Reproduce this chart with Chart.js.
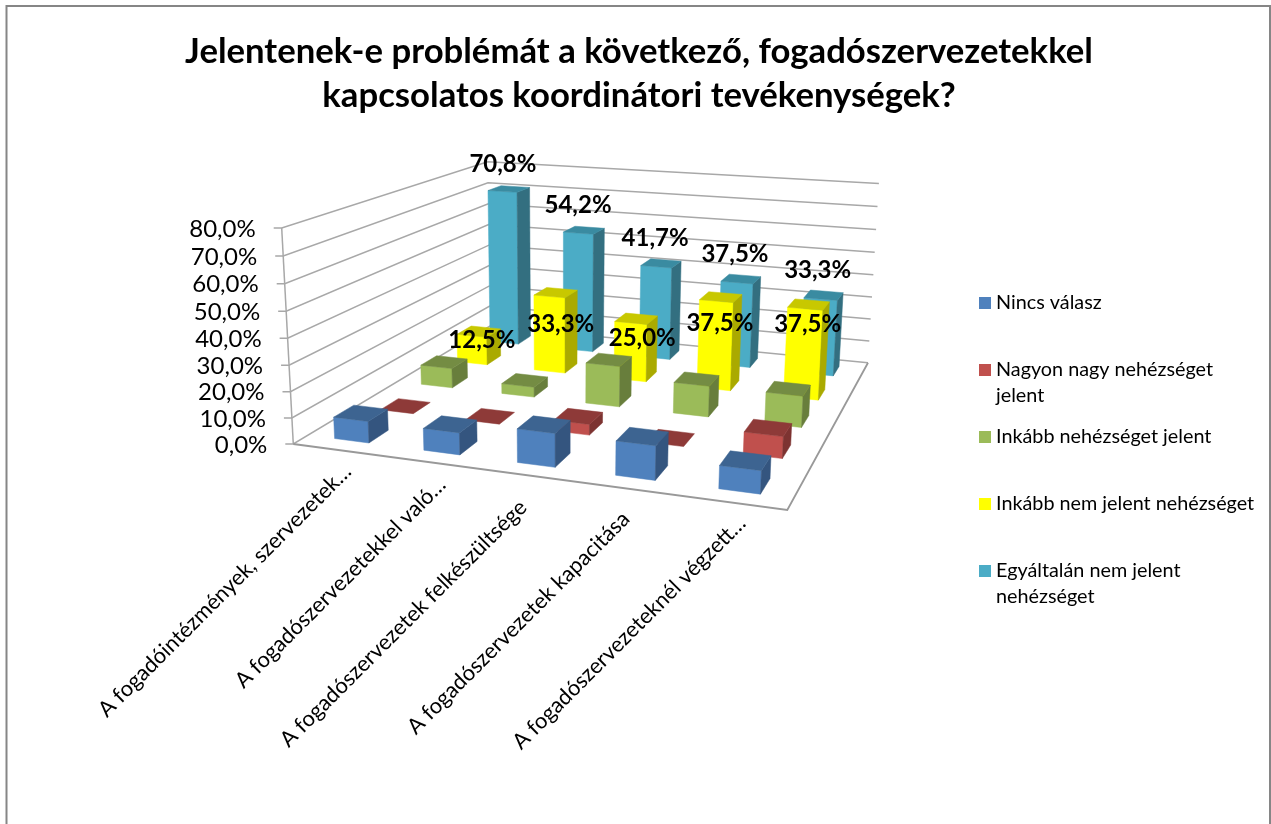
<!DOCTYPE html>
<html>
<head>
<meta charset="utf-8">
<title>Koordinátori tevékenységek</title>
<script src="https://cdn.jsdelivr.net/npm/chart.js@4"></script>
<style>
    html, body { margin: 0; padding: 0; background: #ffffff; }
    canvas { display: block; }
</style>
</head>
<body>
<canvas id="chart" width="1271" height="824"></canvas>
<script>
const titleLines = [
    'Jelentenek-e problémát a következő, fogadószervezetekkel',
    'kapcsolatos koordinátori tevékenységek?'
];
const categories = [
    'A fogadóintézmények, szervezetek…',
    'A fogadószervezetekkel való…',
    'A fogadószervezetek felkészültsége',
    'A fogadószervezetek kapacitása',
    'A fogadószervezeteknél végzett…'
];
const seriesNames = [
    'Nincs válasz',
    'Nagyon nagy nehézséget jelent',
    'Inkább nehézséget jelent',
    'Inkább nem jelent nehézséget',
    'Egyáltalán nem jelent nehézséget'
];
const legendLines = [
    ['Nincs válasz'],
    ['Nagyon nagy nehézséget', 'jelent'],
    ['Inkább nehézséget jelent'],
    ['Inkább nem jelent nehézséget'],
    ['Egyáltalán nem jelent', 'nehézséget']
];
const noAnswer = [8.3, 8.3, 12.5, 12.5, 8.3];
const veryHard = [0, 0, 4.2, 0, 8.3];
const ratherHard = [8.3, 4.2, 16.7, 12.5, 12.5];
const ratherNotHard = [12.5, 33.3, 25.0, 37.5, 37.5];
const notHardAtAll = [70.8, 54.2, 41.7, 37.5, 33.3];
const yTicks = [0, 10, 20, 30, 40, 50, 60, 70, 80];

// front, top, side colour of each series
const faceColors = [
    ['#4f81bd', '#3d6491', '#34557f'],
    ['#c0504d', '#8e3a38', '#7d3331'],
    ['#9bbb59', '#748c43', '#687e3c'],
    ['#ffff00', '#c8c800', '#aaaa00'],
    ['#4bacc6', '#3a8ba1', '#336f80']
];
const FONT = 'Lato, "Open Sans", sans-serif';
const GRID = '#a8a8a8';

// Perspective box: floor corners and vertical vanishing point
const corner = { a: [293.3, 444], b: [787.3, 510], c: [868, 362.7], d: [490, 326] };
const vanish = [560.6, 5420];
const zStrength = 0.0416;
const barU = 0.39;
const barV = 0.42;

function makeProjection() {
    const { a, b, c, d } = corner;
    const dx1 = b[0] - c[0], dx2 = d[0] - c[0], sx = a[0] - b[0] + c[0] - d[0];
    const dy1 = b[1] - c[1], dy2 = d[1] - c[1], sy = a[1] - b[1] + c[1] - d[1];
    const det = dx1 * dy2 - dx2 * dy1;
    const g = (sx * dy2 - dx2 * sy) / det;
    const h = (dx1 * sy - sx * dy1) / det;
    return (u, v, z) => {
        const X = (b[0] - a[0] + g * b[0]) * u + (d[0] - a[0] + h * d[0]) * v + a[0] - vanish[0] * zStrength * z;
        const Y = (b[1] - a[1] + g * b[1]) * u + (d[1] - a[1] + h * d[1]) * v + a[1] - vanish[1] * zStrength * z;
        const W = g * u + h * v + 1 - zStrength * z;
        return [X / W, Y / W];
    };
}
const project = makeProjection();

function polygon(ctx, points, fill) {
    ctx.beginPath();
    points.forEach((p, i) => i ? ctx.lineTo(p[0], p[1]) : ctx.moveTo(p[0], p[1]));
    ctx.closePath();
    ctx.fillStyle = fill;
    ctx.fill();
    ctx.strokeStyle = fill;
    ctx.lineWidth = 0.5;
    ctx.stroke();
}

function polyline(ctx, points, color, width) {
    ctx.beginPath();
    points.forEach((p, i) => i ? ctx.lineTo(p[0], p[1]) : ctx.moveTo(p[0], p[1]));
    ctx.strokeStyle = color;
    ctx.lineWidth = width;
    ctx.stroke();
}

function formatPercent(value) {
    return value.toFixed(1).replace('.', ',') + '%';
}

// scale pixel -> 0..1 position inside the box
function heightOf(chart, value) {
    const y = chart.scales.y;
    return (y.bottom - y.getPixelForValue(value)) / (y.bottom - y.top);
}
function acrossOf(chart, index) {
    const x = chart.scales.x;
    return (x.getPixelForValue(index) - x.left) / (x.right - x.left);
}
function depthOf(seriesIndex) {
    return (seriesIndex + 0.5) / seriesNames.length;
}

function drawWalls(chart) {
    const ctx = chart.ctx;
    chart.scales.y.ticks.forEach(tick => {
        const z = heightOf(chart, tick.value);
        const start = project(0, 0, z);
        polyline(ctx, [[start[0] - 8, start[1]], start, project(0, 1, z), project(1, 1, z)], GRID, 1.5);
    });
    polyline(ctx, [project(0, 0, 0), project(0, 0, 1)], GRID, 1.5);
    polyline(ctx, [project(0, 0, 0), project(1, 0, 0), project(1, 1, 0)], '#999999', 1.8);
}

function drawBar(ctx, u, v, z, colors) {
    const u0 = u - barU / 2 / categories.length, u1 = u + barU / 2 / categories.length;
    const v0 = v - barV / 2 / seriesNames.length, v1 = v + barV / 2 / seriesNames.length;
    if (z > 0) {
        polygon(ctx, [project(u0, v0, 0), project(u1, v0, 0), project(u1, v0, z), project(u0, v0, z)], colors[0]);
        polygon(ctx, [project(u1, v0, 0), project(u1, v1, 0), project(u1, v1, z), project(u1, v0, z)], colors[2]);
    }
    polygon(ctx, [project(u0, v0, z), project(u1, v0, z), project(u1, v1, z), project(u0, v1, z)], colors[1]);
}

function drawBars(chart) {
    const ctx = chart.ctx;
    // back row first, left (farther) bars first
    for (let s = seriesNames.length - 1; s >= 0; s--) {
        chart.data.datasets[s].data.forEach((value, i) => {
            drawBar(ctx, acrossOf(chart, i), depthOf(s), heightOf(chart, value), faceColors[s]);
        });
    }
}

function drawValueLabels(chart) {
    const ctx = chart.ctx;
    ctx.font = 'bold 24px ' + FONT;
    ctx.fillStyle = '#000000';
    ctx.textAlign = 'center';
    ctx.textBaseline = 'middle';
    const nudgeYellow = [[3, 9], [5, 32], [6, 20], [-1, 26], [-1, 20]];
    [3, 4].forEach(s => {
        chart.data.datasets[s].data.forEach((value, i) => {
            const top = project(acrossOf(chart, i), depthOf(s), heightOf(chart, value));
            const nudge = s === 4 ? [-6, -25] : nudgeYellow[i];
            ctx.fillText(formatPercent(value), top[0] + nudge[0], top[1] + nudge[1]);
        });
    });
}

function drawAxisLabels(chart) {
    const ctx = chart.ctx;
    ctx.fillStyle = '#000000';
    ctx.font = '24px ' + FONT;
    ctx.textAlign = 'right';
    ctx.textBaseline = 'middle';
    chart.scales.y.ticks.forEach(tick => {
        const p = project(0, 0, heightOf(chart, tick.value));
        ctx.fillText(formatPercent(tick.value), p[0] - 26, p[1] + 1);
    });

    ctx.font = '21.8px ' + FONT;
    const labelNudge = [[10, 18], [13, 19], [-2, 29], [0, 27], [10, 17]];
    chart.scales.x.getLabels().forEach((label, i) => {
        const p = project(acrossOf(chart, i), 0, 0);
        ctx.save();
        ctx.translate(p[0] + labelNudge[i][0], p[1] + labelNudge[i][1]);
        ctx.rotate(-Math.PI / 4);
        ctx.fillText(label, 0, 0);
        ctx.restore();
    });
}

function drawLegend(chart) {
    const ctx = chart.ctx;
    ctx.font = '19.8px ' + FONT;
    ctx.textAlign = 'left';
    ctx.textBaseline = 'middle';
    legendLines.forEach((lines, i) => {
        const y = 303 + i * 67;
        ctx.fillStyle = faceColors[i][0];
        ctx.fillRect(979, y - 6, 12, 12);
        ctx.fillStyle = '#000000';
        lines.forEach((line, n) => ctx.fillText(line, 996, y + n * 26));
    });
}

const box3d = {
    id: 'box3d',
    beforeDraw(chart) {
        const ctx = chart.ctx;
        ctx.fillStyle = '#ffffff';
        ctx.fillRect(0, 0, chart.width, chart.height);
        polyline(ctx, [[6.5, 824], [6.5, 6], [1270, 6], [1270, 824]], '#868686', 2);
    },
    beforeDatasetsDraw(chart) {
        drawWalls(chart);
        drawBars(chart);
        drawValueLabels(chart);
        drawAxisLabels(chart);
        drawLegend(chart);
        return false; // the flat bars are replaced by the 3D ones
    }
};

const seriesValues = [noAnswer, veryHard, ratherHard, ratherNotHard, notHardAtAll];

new Chart(document.getElementById('chart'), {
    type: 'bar',
    plugins: [box3d],
    data: {
        labels: categories,
        datasets: seriesNames.map((name, i) => ({
            label: name,
            data: seriesValues[i],
            backgroundColor: faceColors[i][0]
        }))
    },
    options: {
        responsive: false,
        animation: false,
        layout: { padding: { left: 7, top: 6 } },
        plugins: {
            legend: { display: false },
            tooltip: { enabled: false },
            title: {
                display: true,
                text: titleLines,
                color: '#000000',
                font: { family: FONT, size: 34.7, weight: 'bold', lineHeight: 1.29 },
                padding: { top: 23, bottom: 10 }
            }
        },
        scales: {
            x: { display: false, offset: true },
            y: {
                display: false,
                min: yTicks[0],
                max: yTicks[yTicks.length - 1],
                afterBuildTicks(scale) {
                    scale.ticks = yTicks.map(value => ({ value }));
                }
            }
        }
    }
});
</script>
</body>
</html>
